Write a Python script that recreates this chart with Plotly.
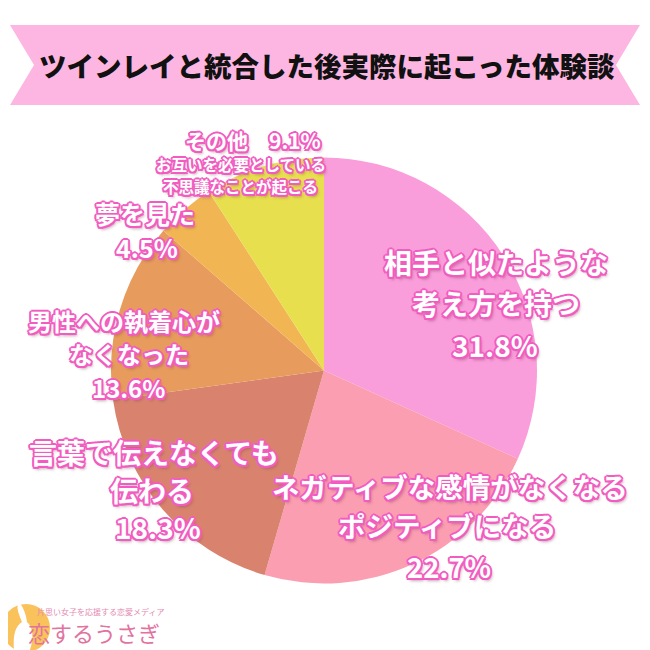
import plotly.graph_objects as go

# ---- data ----
categories = ["相手と似たような考え方を持つ", "ネガティブな感情がなくなる・ポジティブになる",
              "言葉で伝えなくても伝わる", "男性への執着心がなくなった", "夢を見た",
              "その他（お互いを必要としている不思議なことが起こる）"]
values = [31.8, 22.7, 18.3, 13.6, 4.5, 9.1]
colors = ["#FA9EDB", "#FB9EB1", "#D9836F", "#E79B5C", "#F1B653", "#E7DF4E"]

title_text = "ツインレイと統合した後実際に起こった体験談"

# label lines per slice (text, pixel x, pixel y, font size)
label_lines = [
    ("相手と似たような", 496, 262, 28), ("考え方を持つ", 496, 303, 28), ("31.8%", 495, 345, 28),
    ("ネガティブな感情がなくなる", 450, 486, 27.5), ("ポジティブになる", 447, 525, 27.5), ("22.7%", 449, 566, 27.5),
    ("言葉で伝えなくても", 154, 452, 28), ("伝わる", 152, 490, 28), ("18.3%", 158, 527, 28),
    ("男性への執着心が", 124, 320, 24), ("なくなった", 129, 354, 24), ("13.6%", 128, 387, 24),
    ("夢を見た", 145, 213, 25), ("4.5%", 147, 247, 25),
    ("その他　9.1%", 253, 140, 21), ("お互いを必要としている", 241, 164, 15.5), ("不思議なことが起こる", 240, 186, 15.5),
]

# the page body has an 8px margin; the figure is placed inside it
OFF = 8
W = H = 642
def px(x): return (x - OFF) / W
def py(y): return 1 - (y - OFF) / H

fig = go.Figure()
fig.add_trace(go.Pie(
    labels=categories, values=values, sort=False, direction="clockwise", rotation=0,
    marker=dict(colors=colors, line=dict(width=0)),
    textinfo="none", hoverinfo="label+percent", showlegend=False,
    domain=dict(x=[px(111), px(537)], y=[py(583.5), py(157.5)]),
))

pink = "#F25CC0"
outline = ", ".join(f"{dx}px {dy}px 0 {pink}" for dx, dy in
                    [(-2, 0), (2, 0), (0, -2), (0, 2), (-1.5, -1.5), (1.5, -1.5), (-1.5, 1.5), (1.5, 1.5)])
shadow = outline + ", 2px 3px 3px rgba(120,60,90,0.45)"

annotations = []
for txt, x, y, s in label_lines:
    annotations.append(dict(
        text=txt, x=px(x), y=py(y), xref="paper", yref="paper", showarrow=False,
        xanchor="center", yanchor="middle",
        font=dict(family="Noto Sans CJK JP", size=s, color="white", weight=700, shadow=shadow),
    ))

# title
annotations.append(dict(
    text=title_text, x=px(327), y=py(65), xref="paper", yref="paper", showarrow=False,
    xanchor="center", yanchor="middle",
    font=dict(family="Noto Sans CJK JP", size=27.5, color="#111111", weight=900),
))

# logo texts
annotations.append(dict(
    text="片思い女子を応援する恋愛メディア", x=px(35), y=py(611), xref="paper", yref="paper",
    showarrow=False, xanchor="left", yanchor="middle",
    font=dict(family="Noto Sans CJK JP", size=8, color="#E58AB0"),
))
annotations.append(dict(
    text="恋するうさぎ", x=px(26), y=py(632), xref="paper", yref="paper",
    showarrow=False, xanchor="left", yanchor="middle",
    font=dict(family="Noto Sans CJK JP", size=22, color="#E2739F"),
))

shapes = [
    dict(type="path", xref="paper", yref="paper",
         path=f"M {px(10)},{py(25)} L {px(640)},{py(25)} L {px(616)},{py(65)} L {px(640)},{py(105)} "
              f"L {px(10)},{py(105)} L {px(34)},{py(65)} Z",
         fillcolor="#FDB6E1", line=dict(width=0), layer="below"),
    dict(type="circle", xref="paper", yref="paper",
         x0=px(2), x1=px(50), y0=py(652), y1=py(604),
         fillcolor="#F9C25A", line=dict(width=0), layer="below"),
    dict(type="path", xref="paper", yref="paper",
         path=f"M {px(14)},{py(650)} Q {px(12)},{py(628)} {px(22)},{py(622)} "
              f"Q {px(14)},{py(604)} {px(20)},{py(603)} Q {px(26)},{py(612)} {px(27)},{py(622)} "
              f"Q {px(36)},{py(630)} {px(30)},{py(650)} Z",
         fillcolor="white", line=dict(width=0), layer="below"),
]

fig.update_layout(
    width=W, height=H, margin=dict(l=0, r=0, t=0, b=0),
    paper_bgcolor="white", plot_bgcolor="white",
    annotations=annotations, shapes=shapes,
)

fig.write_html("out.html")
